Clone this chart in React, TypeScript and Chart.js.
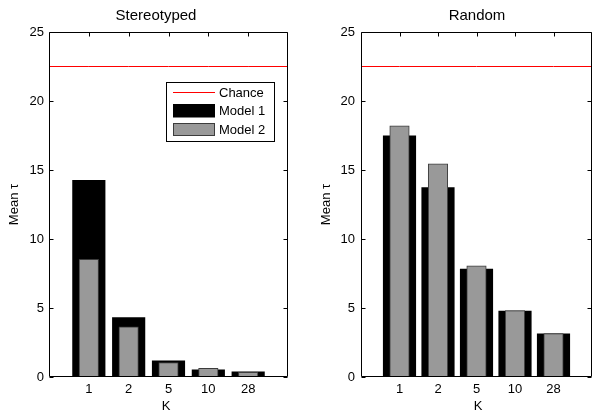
import React, { useEffect, useRef } from 'react';
import { Chart, registerables } from 'chart.js';

Chart.register(...registerables);

const categories = ['1', '2', '5', '10', '28'];
const chanceLevel = 22.5;
const stereoModel1 = [14.25, 4.3, 1.18, 0.52, 0.37];
const stereoModel2 = [8.52, 3.63, 1.05, 0.62, 0.33];
const randomModel1 = [17.48, 13.73, 7.82, 4.77, 3.12];
const randomModel2 = [18.2, 15.45, 8.06, 4.82, 3.15];
const yTickValues = [0, 5, 10, 15, 20, 25];
const legendLabels = ['Chance', 'Model 1', 'Model 2'];

const FONT = "'Liberation Sans', Arial, Helvetica, sans-serif";

type PanelCfg = {
  title: string;
  m1: number[];
  m2: number[];
  canvasLeft: number;
  canvasWidth: number;
  areaLeft: number;
  padRight: number;
  yTickPad: number;
  titleX: number;
  xLabelX: number;
  yLabelX: number;
  legend: boolean;
};

const panels: PanelCfg[] = [
  {
    title: 'Stereotyped', m1: stereoModel1, m2: stereoModel2,
    canvasLeft: 0, canvasWidth: 298, areaLeft: 49, padRight: 10, yTickPad: 5,
    titleX: 156, xLabelX: 166, yLabelX: 14, legend: true,
  },
  {
    title: 'Random', m1: randomModel1, m2: randomModel2,
    canvasLeft: 298, canvasWidth: 299, areaLeft: 63, padRight: 0, yTickPad: 6,
    titleX: 179, xLabelX: 180, yLabelX: 28, legend: false,
  },
];

function makeDecor(cfg: PanelCfg) {
  return {
    id: 'decor' + cfg.title,
    afterDatasetsDraw(chart: any) {
      const { ctx, chartArea: a, scales } = chart;
      const ys = scales.y;
      const xs = scales.x;
      ctx.save();
      ctx.strokeStyle = '#000';
      ctx.lineWidth = 1;
      const L = a.left + 0.5;
      const R = a.right - 0.5;
      const T = a.top + 0.5;
      const B = a.bottom - 0.5;
      ctx.beginPath();
      ctx.moveTo(L, T); ctx.lineTo(R, T); ctx.lineTo(R, B); ctx.lineTo(L, B); ctx.closePath();
      ctx.stroke();
      // inside ticks
      ctx.beginPath();
      yTickValues.forEach((v) => {
        const py = Math.round(ys.getPixelForValue(v)) + 0.5;
        ctx.moveTo(L, py); ctx.lineTo(L + 4, py);
        ctx.moveTo(R, py); ctx.lineTo(R - 4, py);
      });
      categories.forEach((_, i) => {
        const px = Math.round(xs.getPixelForValue(i + 1)) + 0.5;
        ctx.moveTo(px, T); ctx.lineTo(px, T + 4);
      });
      ctx.stroke();

      // texts
      ctx.fillStyle = '#000';
      ctx.textAlign = 'center';
      ctx.textBaseline = 'middle';
      ctx.font = `15px ${FONT}`;
      ctx.fillText(cfg.title, cfg.titleX, 16);
      ctx.font = `13px ${FONT}`;
      ctx.fillText('K', cfg.xLabelX, 406);
      ctx.save();
      ctx.translate(cfg.yLabelX, (a.top + a.bottom) / 2);
      ctx.rotate(-Math.PI / 2);
      ctx.fillText('Mean \u03c4', 0, 0);
      ctx.restore();

      if (cfg.legend) {
        ctx.fillStyle = '#fff';
        ctx.fillRect(166, 82, 108, 59);
        ctx.strokeStyle = '#000';
        ctx.strokeRect(166.5, 82.5, 108, 59);
        ctx.strokeStyle = '#ff0000';
        ctx.beginPath();
        ctx.moveTo(173, 92.5); ctx.lineTo(215, 92.5);
        ctx.stroke();
        ctx.fillStyle = '#000';
        ctx.fillRect(173, 104, 42, 13.5);
        ctx.fillStyle = '#999999';
        ctx.fillRect(173, 123, 42, 13);
        ctx.strokeStyle = '#3c3c3c';
        ctx.strokeRect(173.5, 123.5, 41, 12);
        ctx.fillStyle = '#000';
        ctx.textAlign = 'left';
        ctx.font = `13px ${FONT}`;
        ctx.fillText(legendLabels[0], 219, 93);
        ctx.fillText(legendLabels[1], 219, 111.5);
        ctx.fillText(legendLabels[2], 219, 130.5);
      }
      ctx.restore();
    },
  };
}

function Panel({ cfg }: { cfg: PanelCfg }) {
  const ref = useRef<HTMLCanvasElement>(null);
  useEffect(() => {
    const labels = ['', ...categories, ''];
    const pad = (arr: number[]) => [null, ...arr, null];
    const chart = new Chart(ref.current as HTMLCanvasElement, {
      type: 'bar',
      data: {
        labels,
        datasets: [
          {
            type: 'line' as any,
            label: legendLabels[0],
            data: labels.map(() => chanceLevel),
            borderColor: '#ff0000',
            borderWidth: 1,
            pointRadius: 0,
            order: 0,
          } as any,
          {
            label: legendLabels[2],
            data: pad(cfg.m2),
            backgroundColor: '#999999',
            borderColor: '#3c3c3c',
            borderWidth: 1,
            barThickness: 19.5,
            grouped: false,
            order: 1,
          } as any,
          {
            label: legendLabels[1],
            data: pad(cfg.m1),
            backgroundColor: '#000000',
            borderWidth: 0,
            barThickness: 32.5,
            grouped: false,
            order: 2,
          } as any,
        ],
      },
      options: {
        animation: false,
        responsive: false,
        events: [],
        layout: { padding: { left: 0, right: cfg.padRight, top: 32, bottom: 0 } },
        plugins: { legend: { display: false }, tooltip: { enabled: false }, title: { display: false } },
        scales: {
          x: {
            type: 'category',
            offset: false,
            grid: { display: false, drawTicks: false },
            border: { display: false },
            ticks: {
              autoSkip: false,
              maxRotation: 0,
              minRotation: 0,
              color: '#000',
              padding: 5,
              font: { family: FONT, size: 13 },
            },
            afterFit: (s: any) => { s.height = 36; },
          },
          y: {
            min: 0,
            max: 25,
            grid: { display: false, drawTicks: false },
            border: { display: false },
            ticks: {
              stepSize: 5,
              color: '#000',
              padding: cfg.yTickPad,
              font: { family: FONT, size: 13 },
            },
            afterFit: (s: any) => { s.width = cfg.areaLeft; },
          },
        },
      } as any,
      plugins: [makeDecor(cfg)],
    });
    return () => chart.destroy();
  }, [cfg]);
  return (
    <canvas
      ref={ref}
      width={cfg.canvasWidth}
      height={413}
      style={{ position: 'absolute', left: cfg.canvasLeft, top: 0, width: cfg.canvasWidth, height: 413, display: 'block' }}
    />
  );
}

export default function App() {
  return (
    <div style={{ position: 'fixed', left: 0, top: 0, width: 597, height: 413, background: '#fff', overflow: 'hidden' }}>
      {panels.map((p) => (
        <Panel key={p.title} cfg={p} />
      ))}
    </div>
  );
}
